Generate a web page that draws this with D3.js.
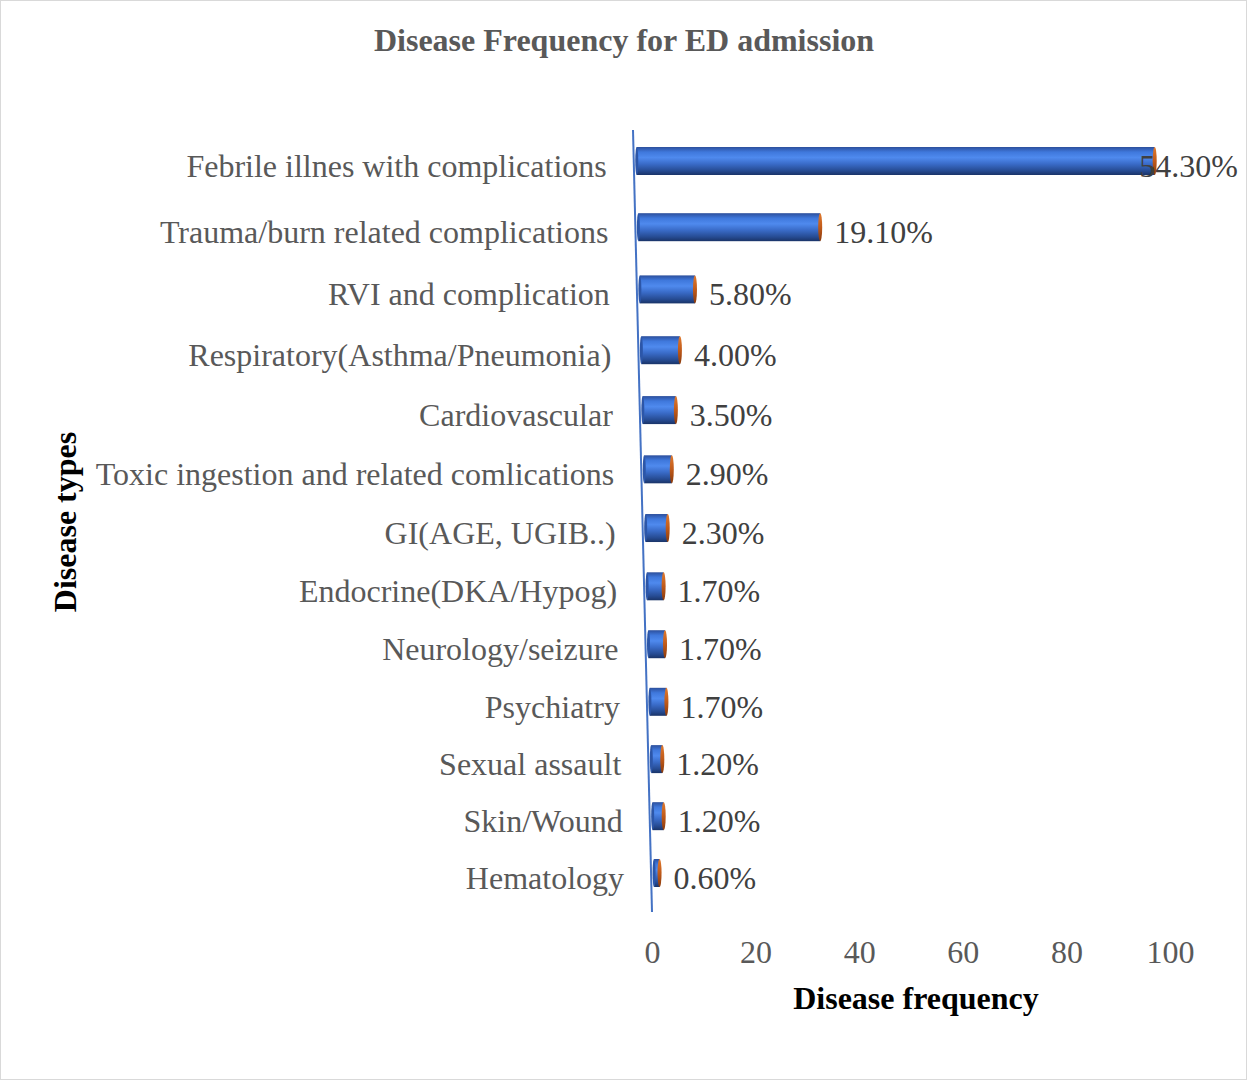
<!DOCTYPE html>
<html><head><meta charset="utf-8">
<script src="https://cdn.jsdelivr.net/npm/d3@7"></script>
<style>body{margin:0;background:#fff}svg{display:block}</style>
</head><body>
<svg id="c" width="1247" height="1080"></svg>
<script>
const categories = ["Febrile illnes with complications","Trauma/burn related complications","RVI and complication","Respiratory(Asthma/Pneumonia)","Cardiovascular","Toxic ingestion and related comlications","GI(AGE, UGIB..)","Endocrine(DKA/Hypog)","Neurology/seizure","Psychiatry","Sexual assault","Skin/Wound","Hematology"];
const counts = [94,33,10,7,6,5,4,3,3,3,2,2,1];
const percentLabels = ["54.30%","19.10%","5.80%","4.00%","3.50%","2.90%","2.30%","1.70%","1.70%","1.70%","1.20%","1.20%","0.60%"];
const xTicks = [0,20,40,60,80,100];

const svg = d3.select("#c");
const W = 1247, H = 1080;
svg.append("rect").attr("x",0.5).attr("y",0.5).attr("width",W-1).attr("height",H-1)
  .attr("fill","#fff").attr("stroke","#d9d9d9");

const defs = svg.append("defs");
const g1 = defs.append("linearGradient").attr("id","cyl").attr("x1",0).attr("y1",0).attr("x2",0).attr("y2",1);
[[0,"#2c4f9c"],[0.18,"#3f78dc"],[0.38,"#4f8aee"],[0.6,"#3a6cc9"],[0.85,"#264b92"],[1,"#1a3468"]]
  .forEach(([o,c])=>g1.append("stop").attr("offset",o).attr("stop-color",c));
const g2 = defs.append("linearGradient").attr("id","cap").attr("x1",0).attr("y1",0).attr("x2",0).attr("y2",1);
[[0,"#e07a2e"],[0.5,"#c05a1a"],[1,"#8a3a0c"]].forEach(([o,c])=>g2.append("stop").attr("offset",o).attr("stop-color",c));

const font = "'Liberation Serif','Times New Roman',serif";
const FS = 32;

// vertical placement with slight perspective (rows get closer further down)
const idx = d3.scalePoint().domain(categories).range([0, categories.length - 1]);
const persp = d3.scalePow().exponent(0.956).domain([0, categories.length - 1]).range([161, 873]);
const y = c => persp(idx(c));
const barH = 28;
// slanted (perspective) axis line
const axisX = d3.scaleLinear().domain([130, 912]).range([633, 652]);
// bar length scale (px per count)
const barLen = d3.scaleLinear().domain([0,100]).range([0,551]);
// tick label scale
const x = d3.scaleLinear().domain([0,100]).range([652,1170]);
const labelRight = 1238;

// axis line
svg.append("line").attr("x1",axisX(130)).attr("y1",130).attr("x2",axisX(912)).attr("y2",912)
  .attr("stroke","#4472c4").attr("stroke-width",2);

// bars
const bars = svg.append("g").selectAll("g").data(categories).join("g");
bars.each(function(c,i){
  const g = d3.select(this);
  const cy = y(c);
  const x0 = axisX(cy) + 3;
  const x1 = x0 + barLen(counts[i]);
  g.append("rect").attr("x",x0).attr("y",cy-barH/2).attr("width",x1-x0).attr("height",barH)
    .attr("fill","url(#cyl)");
  g.append("ellipse").attr("cx",x1).attr("cy",cy).attr("rx",2).attr("ry",barH/2)
    .attr("fill","url(#cap)");
  g.append("ellipse").attr("cx",x0).attr("cy",cy).attr("rx",1.5).attr("ry",barH/2)
    .attr("fill","#2c56a8");
  const t = g.append("text").attr("x", x1 + 14).attr("y", cy + 16)
    .attr("font-family",font).attr("font-size",FS).attr("fill","#404040")
    .text(percentLabels[i]);
  const w = t.node().getComputedTextLength();
  if (x1 + 14 + w > labelRight) t.attr("x", labelRight - w);
});

// category labels
svg.append("g").selectAll("text").data(categories).join("text")
  .attr("x", d => axisX(y(d)) - 27)
  .attr("y", d => y(d) + 16)
  .attr("text-anchor","end")
  .attr("font-family",font).attr("font-size",FS).attr("fill","#595959")
  .text(d => d);

// x axis tick labels
const ax = svg.append("g").attr("transform","translate(0,940)")
  .call(d3.axisBottom(x).tickValues(xTicks).tickSize(0).tickPadding(0).tickFormat(d3.format("d")));
ax.select(".domain").remove();
ax.selectAll("text").attr("font-family",font).attr("font-size",FS).attr("fill","#595959").attr("dy","0.71em");

// titles
svg.append("text").attr("x",624).attr("y",51).attr("text-anchor","middle")
  .attr("font-family",font).attr("font-size",FS).attr("font-weight","bold").attr("fill","#595959")
  .text("Disease Frequency for ED admission");
svg.append("text").attr("x",916).attr("y",1009).attr("text-anchor","middle")
  .attr("font-family",font).attr("font-size",FS).attr("font-weight","bold").attr("fill","#000")
  .text("Disease frequency");
svg.append("text").attr("transform","translate(76,522) rotate(-90)").attr("text-anchor","middle")
  .attr("font-family",font).attr("font-size",FS).attr("font-weight","bold").attr("fill","#000")
  .text("Disease types");
</script>
</body></html>
